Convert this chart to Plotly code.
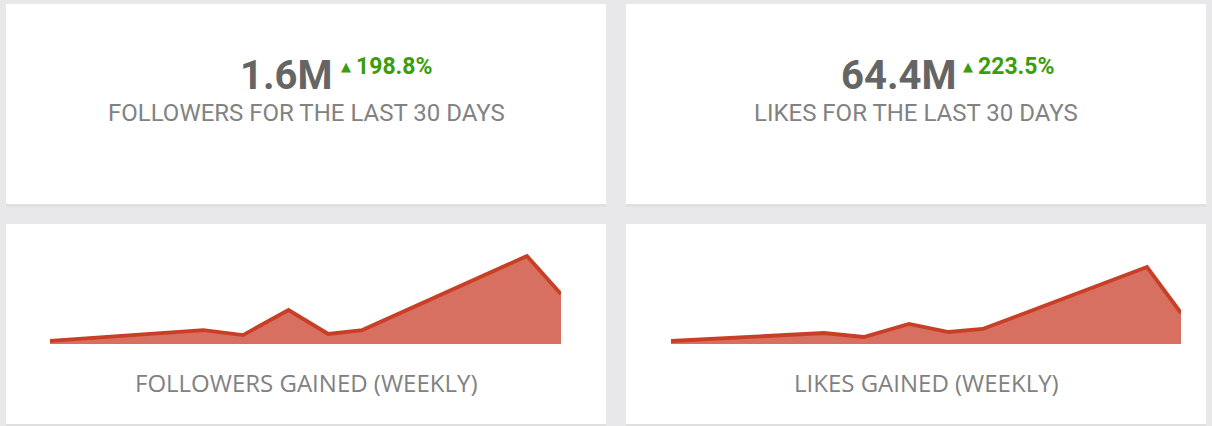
import plotly.graph_objects as go

W, H = 1212, 426

# ---- data ----
weeks = ["2018-10-01", "2018-10-28", "2018-11-04", "2018-11-12",
         "2018-11-19", "2018-11-25", "2018-12-24", "2018-12-30"]
followers_gained = [20, 92, 59, 224, 66, 92, 581, 330]        # thousands
likes_gained = [0.75, 2.75, 1.75, 5.0, 3.0, 3.75, 19.25, 7.75]  # millions

followers_total = "1.6M"
followers_change = "198.8%"
likes_total = "64.4M"
likes_change = "223.5%"

followers_label = "FOLLOWERS FOR THE LAST 30 DAYS"
likes_label = "LIKES FOR THE LAST 30 DAYS"
followers_chart_label = "FOLLOWERS GAINED (WEEKLY)"
likes_chart_label = "LIKES GAINED (WEEKLY)"

LINE = "#c93f25"
FILL = "#d77060"
BG = "#e8e8ea"
GREEN = "#3c9d0b"


def px(x):
    return x / W


def py(y):
    return 1 - y / H


fig = go.Figure()

fig.add_trace(go.Scatter(
    x=weeks, y=followers_gained, mode="lines", fill="tozeroy",
    line=dict(color=LINE, width=3.8), fillcolor=FILL,
    xaxis="x", yaxis="y", hoverinfo="skip", showlegend=False))
fig.add_trace(go.Scatter(
    x=weeks, y=likes_gained, mode="lines", fill="tozeroy",
    line=dict(color=LINE, width=3.8), fillcolor=FILL,
    xaxis="x2", yaxis="y2", hoverinfo="skip", showlegend=False))

shapes = []
for (x0, x1) in [(6, 606), (626, 1206)]:
    for (y0, y1) in [(4, 204), (224, 424)]:
        shapes.append(dict(type="rect", xref="paper", yref="paper",
                           x0=px(x0), x1=px(x1), y0=py(y1 + 3), y1=py(y0),
                           fillcolor="#dfdfe0", line=dict(width=0), layer="below"))
        shapes.append(dict(type="rect", xref="paper", yref="paper",
                           x0=px(x0), x1=px(x1), y0=py(y1), y1=py(y0),
                           fillcolor="#ffffff", line=dict(width=0), layer="below"))

anns = []
ROBOTO = "Roboto"
for (num, num_right, tri_left, chg_left, chg, lab, cx, sub, chart_cx) in [
    (followers_total, 335, 339, 354, followers_change, followers_label, 306,
     followers_chart_label, 306),
    (likes_total, 958, 961, 976, likes_change, likes_label, 916,
     likes_chart_label, 926),
]:
    anns.append(dict(text="<b>%s</b>" % num, xref="paper", yref="paper",
                     x=px(num_right), y=py(75), xanchor="right", yanchor="middle",
                     showarrow=False,
                     font=dict(family=ROBOTO, size=40, color="#656565")))
    anns.append(dict(text="▲", xref="paper", yref="paper",
                     x=px(tri_left), y=py(66), xanchor="left", yanchor="middle",
                     showarrow=False,
                     font=dict(family="DejaVu Sans", size=13, color=GREEN)))
    anns.append(dict(text="<b>%s</b>" % chg, xref="paper", yref="paper",
                     x=px(chg_left), y=py(66), xanchor="left", yanchor="middle",
                     showarrow=False,
                     font=dict(family=ROBOTO, size=23, color=GREEN)))
    anns.append(dict(text=lab, xref="paper", yref="paper",
                     x=px(cx), y=py(113), xanchor="center", yanchor="middle",
                     showarrow=False,
                     font=dict(family=ROBOTO, size=24, color="#828282")))
    anns.append(dict(text=sub, xref="paper", yref="paper",
                     x=px(chart_cx), y=py(382), xanchor="center", yanchor="middle",
                     showarrow=False,
                     font=dict(family="Open Sans", size=24, color="#818181")))

axis_common = dict(showgrid=False, zeroline=False, showticklabels=False,
                   showline=False, ticks="", fixedrange=True)
xr = ["2018-10-01", "2018-12-30"]

fig.update_layout(
    width=W, height=H,
    margin=dict(l=0, r=0, t=0, b=0),
    paper_bgcolor=BG, plot_bgcolor="rgba(0,0,0,0)",
    shapes=shapes, annotations=anns,
    xaxis=dict(domain=[px(50), px(561)], range=xr, **axis_common),
    yaxis=dict(domain=[py(344), py(244)], range=[0, 660], **axis_common),
    xaxis2=dict(domain=[px(671), px(1181)], range=xr, anchor="y2", **axis_common),
    yaxis2=dict(domain=[py(344), py(244)], range=[0, 25], anchor="x2", **axis_common),
)

fig.write_html("out.html", config={"displayModeBar": False},
               post_script="document.body.style.margin='0px';"
                           "document.body.style.overflow='hidden';"
                           "document.body.style.background='%s';" % BG)
